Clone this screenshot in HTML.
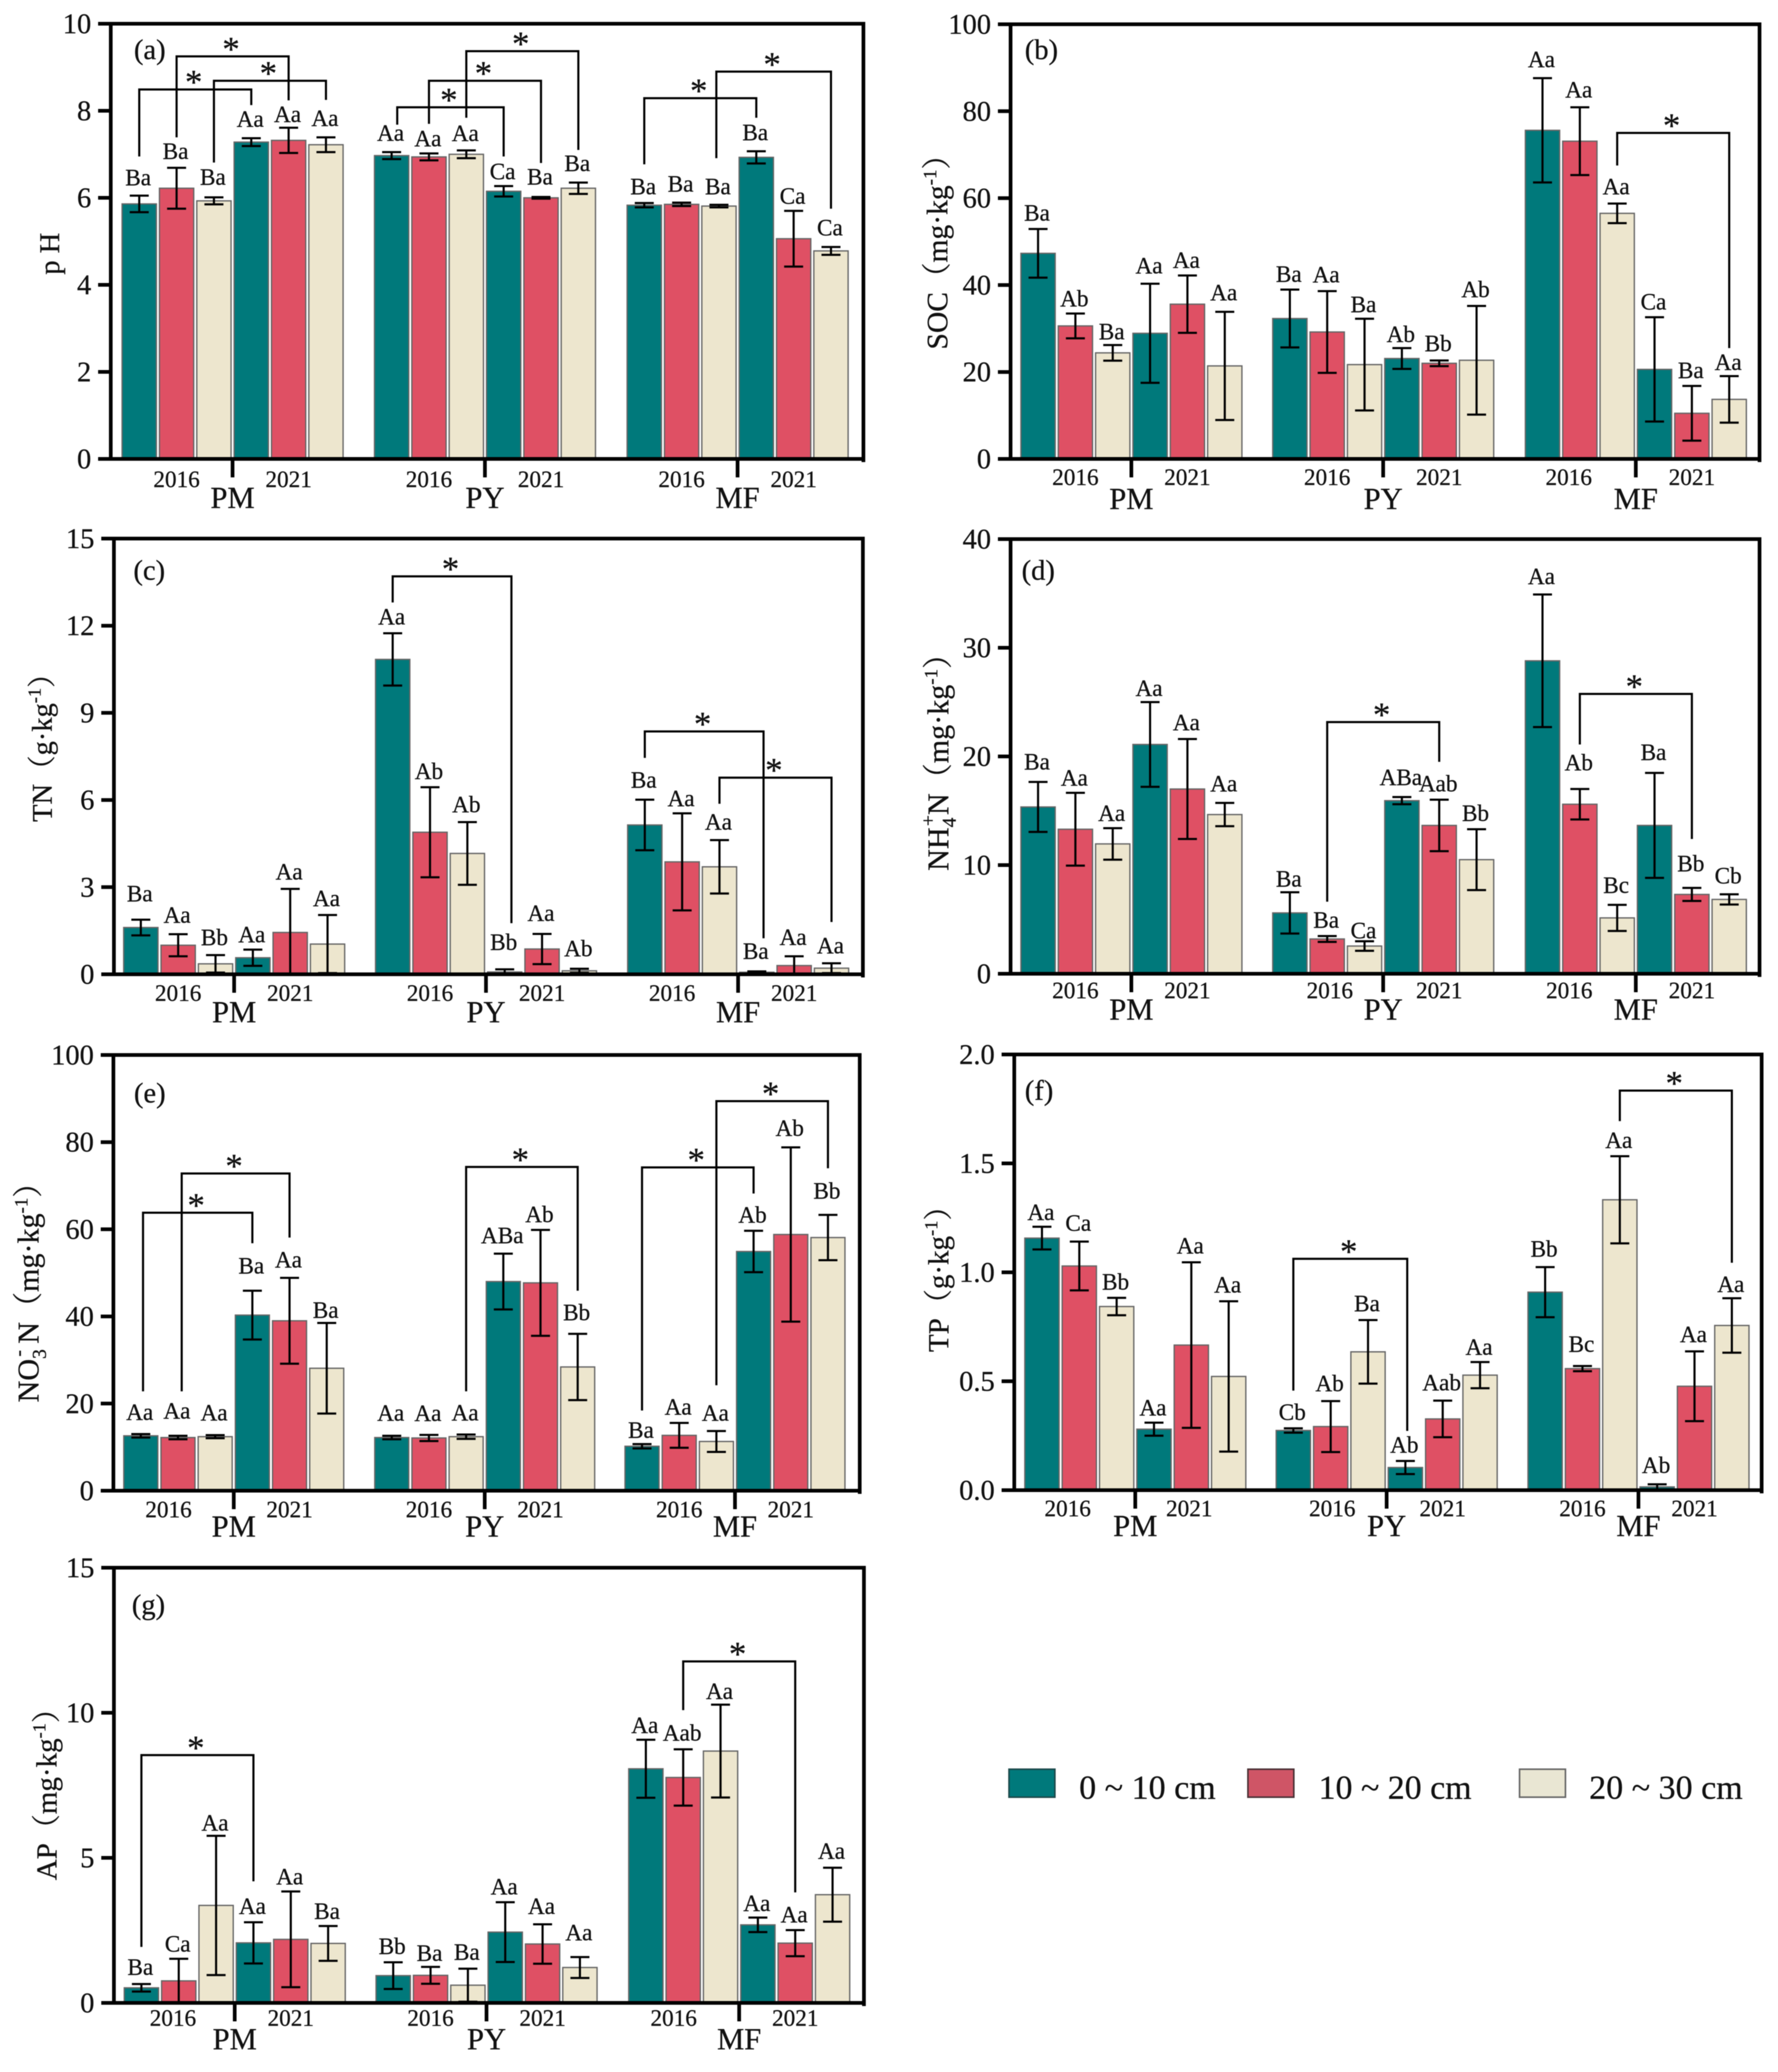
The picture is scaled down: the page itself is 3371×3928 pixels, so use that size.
<!DOCTYPE html>
<html lang="en">
<head>
<meta charset="utf-8">
<title>Soil properties by stand type, year and depth</title>
<style>
html,body{margin:0;padding:0;background:#fff;width:3371px;height:3928px;overflow:hidden}
svg{display:block;filter:blur(0.8px)}
text{font-family:"Liberation Serif","Noto Serif CJK SC",serif;fill:#111;stroke:#111;stroke-width:0.5px}
.let{font-size:54px}
.leg{font-size:64px}
</style>
</head>
<body>
<svg id="chart" xmlns="http://www.w3.org/2000/svg" width="3371" height="3928" viewBox="0 0 3371 3928">
  <rect x="0" y="0" width="3371" height="3928" fill="#fff"/>

  <text font-size="54" transform="translate(112,481) rotate(-90)" text-anchor="middle">p H</text>
  <text font-size="56" transform="translate(1796,464) rotate(-90)" text-anchor="middle">SOC（mg·kg<tspan dy="-21" font-size="36">-1</tspan><tspan dy="21">）</tspan></text>
  <text font-size="54" transform="translate(98,1404) rotate(-90)" text-anchor="middle">TN（g·kg<tspan dy="-21" font-size="35">-1</tspan><tspan dy="21">）</tspan></text>
  <text font-size="57" transform="translate(1798,1431) rotate(-90)" text-anchor="middle">NH<tspan dy="14" font-size="37">4</tspan><tspan dx="-16" dy="-40" font-size="37">+</tspan><tspan dy="26">N（mg·kg</tspan><tspan dy="-21" font-size="36">-1</tspan><tspan dy="21">）</tspan></text>
  <text font-size="57" transform="translate(73,2436) rotate(-90)" text-anchor="middle">NO<tspan dy="14" font-size="37">3</tspan><tspan dx="-14" dy="-40" font-size="37">-</tspan><tspan dy="26" dx="12">N（mg·kg</tspan><tspan dy="-21" font-size="36">-1</tspan><tspan dy="21">）</tspan></text>
  <text font-size="55" transform="translate(1798,2411) rotate(-90)" text-anchor="middle">TP（g·kg<tspan dy="-21" font-size="35">-1</tspan><tspan dy="21">）</tspan></text>
  <text font-size="55" transform="translate(107,3388) rotate(-90)" text-anchor="middle">AP（mg·kg<tspan dy="-21" font-size="35">-1</tspan><tspan dy="21">）</tspan></text>

  <text class="let" x="254" y="112">(a)</text>
  <text class="let" x="1943" y="112">(b)</text>
  <text class="let" x="253" y="1099">(c)</text>
  <text class="let" x="1937" y="1099">(d)</text>
  <text class="let" x="254" y="2090">(e)</text>
  <text class="let" x="1943" y="2085">(f)</text>
  <text class="let" x="250" y="3060">(g)</text>

  <g>
    <g>
      <rect x="1913" y="3354" width="87" height="53" fill="#00797b" stroke="#1d4a4b" stroke-width="3"/>
      <text class="leg" x="2046" y="3410" textLength="259" lengthAdjust="spacingAndGlyphs">0 ~ 10 cm</text>
    </g>
    <g>
      <rect x="2366" y="3354" width="87" height="53" fill="#cf5566" stroke="#4a3035" stroke-width="3"/>
      <text class="leg" x="2500" y="3410" textLength="290" lengthAdjust="spacingAndGlyphs">10 ~ 20 cm</text>
    </g>
    <g>
      <rect x="2881" y="3354" width="87" height="53" fill="#e9e6d3" stroke="#666" stroke-width="3"/>
      <text class="leg" x="3013" y="3410" textLength="291" lengthAdjust="spacingAndGlyphs">20 ~ 30 cm</text>
    </g>
  </g>
</svg>

<script>
const sites = ['PM', 'PY', 'MF'];
const years = ['2016', '2021'];

const phValues = [5.86,6.22,5.93,7.28,7.32,7.22, 6.97,6.94,7.0,6.15,6.0,6.22, 5.83,5.85,5.81,6.93,5.06,4.78];
const phErrors = [0.19,0.47,0.08,0.09,0.29,0.17, 0.08,0.08,0.09,0.12,0.02,0.13, 0.05,0.04,0.03,0.14,0.64,0.09];
const phLetters = ['Ba','Ba','Ba','Aa','Aa','Aa','Aa','Aa','Aa','Ca','Ba','Ba','Ba','Ba','Ba','Ba','Ca','Ca'];
const phTicks = ['0','2','4','6','8','10'];
const phBrackets = [[0,3,8.49,6.95,8.13],[1,4,9.25,7.39,8.24],[2,5,8.69,6.81,8.25],[6.15,9,8.08,7.68,6.95],[7,10,8.69,7.70,6.80],[8,11,9.37,7.84,7.10],[12,15,8.29,6.77,7.84],[13.93,17,8.9,6.91,5.75]];

const socValues = [47.3,30.6,24.4,28.9,35.6,21.4, 32.3,29.2,21.7,23.1,22.0,22.7, 75.6,73.1,56.5,20.6,10.5,13.7];
const socErrors = [5.6,2.85,1.8,11.4,6.6,12.45, 6.65,9.4,10.55,2.4,0.65,12.5, 12,7.8,2.25,12,6.3,5.35];
const socLetters = ['Ba','Ab','Ba','Aa','Aa','Aa','Ba','Aa','Ba','Ab','Bb','Ab','Aa','Aa','Aa','Ca','Ba','Aa'];
const socTicks = ['0','20','40','60','80','100'];
const socBrackets = [[14,17,75,67.5,25.5]];

const tnValues = [1.61,1.0,0.36,0.57,1.44,1.04, 10.84,4.89,4.16,0.08,0.87,0.12, 5.14,3.87,3.7,0.07,0.3,0.21];
const tnErrors = [0.27,0.38,0.3,0.28,1.5,1.0, 0.9,1.55,1.08,0.09,0.52,0.07, 0.87,1.67,0.92,0.03,0.32,0.17];
const tnLetters = ['Ba','Aa','Bb','Aa','Aa','Aa','Aa','Ab','Ab','Bb','Aa','Ab','Ba','Aa','Aa','Ba','Aa','Aa'];
const tnTicks = ['0','3','6','9','12','15'];
const tnBrackets = [[6,9.18,13.7,12.8,1.76],[12,15.18,8.36,7.45,1.24],[14,17,6.77,5.87,1.8]];

const nh4Values = [15.35,13.3,11.95,21.1,17,14.65, 5.6,3.2,2.55,15.93,13.65,10.5, 28.8,15.6,5.14,13.65,7.3,6.84];
const nh4Errors = [2.3,3.35,1.45,3.9,4.6,1.07, 1.9,0.27,0.44,0.33,2.37,2.8, 6.1,1.4,1.2,4.83,0.6,0.47];
const nh4Letters = ['Ba','Aa','Aa','Aa','Aa','Aa','Ba','Ba','Ca','ABa','Aab','Bb','Aa','Ab','Bc','Ba','Bb','Cb'];
const nh4Ticks = ['0','10','20','30','40'];
const nh4Brackets = [[7,10,23.16,6.63,19.5],[13,16,25.75,21.1,12.4]];

const no3Values = [12.6,12.2,12.4,40.3,39,28.1, 12.2,12.1,12.4,48,47.7,28.4, 10.2,12.7,11.3,54.9,58.8,58.1];
const no3Errors = [0.4,0.4,0.35,5.6,9.85,10.4, 0.4,0.7,0.5,6.4,12.15,7.6, 0.5,2.85,2.4,4.75,20,5.2];
const no3Letters = ['Aa','Aa','Aa','Ba','Aa','Ba','Aa','Aa','Aa','ABa','Ab','Bb','Ba','Aa','Aa','Ab','Ab','Bb'];
const no3Ticks = ['0','20','40','60','80','100'];
const no3Brackets = [[0.06,3,63.8,22.8,56.8],[1.1,4,72.8,22.8,58.1],[8,11,74.3,22.8,45.9],[12,15,74.2,18.4,68.2],[14,17,89.4,24.2,74]];

const tpValues = [1.157,1.029,0.843,0.28,0.666,0.522, 0.274,0.292,0.635,0.104,0.327,0.528, 0.909,0.558,1.333,0.015,0.477,0.756];
const tpErrors = [0.052,0.112,0.04,0.03,0.38,0.345, 0.01,0.117,0.146,0.03,0.084,0.06, 0.115,0.012,0.2,0.012,0.16,0.125];
const tpLetters = ['Aa','Ca','Bb','Aa','Aa','Aa','Cb','Ab','Ba','Ab','Aab','Aa','Bb','Bc','Aa','Ab','Aa','Aa'];
const tpTicks = ['0.0','0.5','1.0','1.5','2.0'];
const tpBrackets = [[6,9.05,1.062,0.457,0.272],[14,17,1.834,1.694,1.044]];

const apValues = [0.52,0.76,3.36,2.07,2.19,2.05, 0.94,0.95,0.61,2.44,2.03,1.22, 8.07,7.77,8.68,2.69,2.06,3.73];
const apErrors = [0.13,0.76,2.4,0.71,1.65,0.6, 0.46,0.29,0.57,1.03,0.68,0.36, 1.0,0.97,1.6,0.25,0.45,0.93];
const apLetters = ['Ba','Ca','Aa','Aa','Aa','Ba','Bb','Ba','Ba','Aa','Aa','Aa','Aa','Aab','Aa','Aa','Aa','Aa'];
const apTicks = ['0','5','10','15'];
const apBrackets = [[0,3,8.54,1.93,4.19],[13,16,11.77,10.09,3.81]];

const depthFills = ['#00797b', '#df5064', '#ede6ce'];

const panels = [
  {id:'ph',  values:phValues,  errors:phErrors,  letters:phLetters,  ticks:phTicks,  brackets:phBrackets,  ymax:10, left:210, right:1637, top:45,   bottom:870,  starts:[231.5,710,1189],  pitch:70.8, barW:65, yearDy:53, siteDy:93, dx16:[0,0,0],     dx21:[0,0,0],
   gaps:[20,17,24,22,11,22,22,14,18,13,24,22,17,21,20,21,14,22]},
  {id:'soc', values:socValues, errors:socErrors, letters:socLetters, ticks:socTicks, brackets:socBrackets, ymax:100,left:1916,right:3336,top:46,   bottom:870,  starts:[1935.6,2413,2892],pitch:70.8, barW:65, yearDy:49, siteDy:95, dx16:[0,0,-21],   dx21:[0,0,0],
   gaps:[16,14,11,20,15,22,15,17,13,12,18,17,21,19,18,15,15,12]},
  {id:'tn',  values:tnValues,  errors:tnErrors,  letters:tnLetters,  ticks:tnTicks,  brackets:tnBrackets,  ymax:15, left:216, right:1636, top:1021, bottom:1847, starts:[234.5,712,1190],  pitch:70.8, barW:65, yearDy:50, siteDy:91, dx16:[0,0,-19],   dx21:[0,0,0],
   gaps:[35,22,19,14,18,17,17,16,19,37,25,24,23,14,20,24,22,19]},
  {id:'nh4', values:nh4Values, errors:nh4Errors, letters:nh4Letters, ticks:nh4Ticks, brackets:nh4Brackets, ymax:40, left:1916,right:3336,top:1022, bottom:1846, starts:[1935.6,2413,2892],pitch:70.8, barW:65, yearDy:46, siteDy:87, dx16:[0,5,-20],   dx21:[0,0,0],
   gaps:[24,14,14,12,17,22,11,16,6,23,16,16,20,36,23,25,32,21]},
  {id:'no3', values:no3Values, errors:no3Errors, letters:no3Letters, ticks:no3Ticks, brackets:no3Brackets, ymax:100,left:215, right:1630, top:2000, bottom:2826, starts:[234.7,710.5,1185],pitch:70.5, barW:64.5, yearDy:50, siteDy:87, dx16:[-18,0,0],  dx21:[0,0,0],
   gaps:[27,33,28,33,20,10,29,27,27,20,15,26,12,16,20,16,22,31]},
  {id:'tp',  values:tpValues,  errors:tpErrors,  letters:tpLetters,  ticks:tpTicks,  brackets:tpBrackets,  ymax:2,  left:1923,right:3340,top:1999, bottom:2825, starts:[1943,2419.6,2897],pitch:70.8, barW:65, yearDy:49, siteDy:87, dx16:[-22,3,0],   dx21:[-4,0,0],
   gaps:[13,21,16,14,17,17,16,19,17,16,20,14,20,27,16,22,18,12]},
  {id:'ap',  values:apValues,  errors:apErrors,  letters:apLetters,  ticks:apTicks,  brackets:apBrackets,  ymax:15, left:216, right:1638, top:2972, bottom:3797, starts:[235.6,713,1192],  pitch:70.8, barW:65, yearDy:43, siteDy:88, dx16:[-11,0,-18], dx21:[0,0,0],
   gaps:[18,14,10,16,14,14,16,12,17,15,20,32,13,17,11,13,15,17]}
];

const SVGNS = 'http://www.w3.org/2000/svg';
const root = document.getElementById('chart');

function mk(tag, attrs, parent, text) {
  const el = document.createElementNS(SVGNS, tag);
  for (const k in attrs) el.setAttribute(k, attrs[k]);
  if (text !== undefined) el.textContent = text;
  parent.appendChild(el);
  return el;
}

function drawPanel(p) {
  const yOf = v => p.bottom - (v / p.ymax) * (p.bottom - p.top);
  const barLeft = i => p.starts[Math.floor(i / 6)] + (i % 6) * p.pitch;
  const barMid = pos => {
    const i = Math.floor(pos);
    return barLeft(i) + p.barW / 2 + (pos - i) * p.pitch;
  };

  const g = mk('g', {}, root);
  
  

  p.values.forEach((v, i) => {
    const bar = mk('rect', {x: barLeft(i), y: yOf(v), width: p.barW, height: p.bottom - yOf(v), fill: depthFills[i % 3], stroke: '#666', 'stroke-width': 2.5}, g);
    
    
  });

  p.values.forEach((v, i) => {
    const hi = yOf(v + p.errors[i]);
    const lo = yOf(Math.max(0, v - p.errors[i]));
    const cx = barMid(i);
    const eb = mk('path', {d: 'M' + (cx - 18) + ' ' + hi + 'H' + (cx + 18) + 'M' + cx + ' ' + hi + 'V' + lo + 'M' + (cx - 18) + ' ' + lo + 'H' + (cx + 18), fill: 'none', stroke: '#000', 'stroke-width': 4}, g);
    
    

    const lab = mk('text', {x: cx - 2, y: hi - p.gaps[i], 'text-anchor': 'middle', 'font-size': 44}, g, p.letters[i]);
    
    
  });

  p.brackets.forEach((b, k) => {
    const x1 = barMid(b[0]);
    const x2 = barMid(b[1]);
    const yt = yOf(b[2]);
    const br = mk('path', {d: 'M' + x1 + ' ' + yOf(b[3]) + 'V' + yt + 'H' + x2 + 'V' + yOf(b[4]), fill: 'none', stroke: '#000', 'stroke-width': 4}, g);
    
    
    const st = mk('text', {x: (x1 + x2) / 2 - 3, y: yt + 8, 'text-anchor': 'middle', 'font-size': 66}, g, '*');
    
    
  });

  const frame = mk('path', {d: 'M' + p.left + ' ' + p.bottom + 'V' + p.top + 'H' + p.right + 'V' + (p.bottom + 6) + 'M' + (p.left - 24) + ' ' + p.bottom + 'H' + p.right, fill: 'none', stroke: '#000', 'stroke-width': 7}, g);
  
  

  p.ticks.forEach((t, i) => {
    const val = i * p.ymax / (p.ticks.length - 1);
    const y = yOf(val);
    const tk = mk('line', {x1: p.left - 24, x2: p.left, y1: y, y2: y, stroke: '#000', 'stroke-width': 7}, g);
    
    
    const tl = mk('text', {x: p.left - 37, y: y + 18, 'text-anchor': 'end', 'font-size': 54}, g, t);
    
    
  });

  sites.forEach((s, k) => {
    const tx = p.starts[k] + 3 * p.pitch - 3;
    const tk = mk('line', {x1: tx, x2: tx, y1: p.bottom, y2: p.bottom + 35, stroke: '#000', 'stroke-width': 7}, g);
    
    
    const sl = mk('text', {x: tx, y: p.bottom + p.siteDy, 'text-anchor': 'middle', 'font-size': 58}, g, s);
    
    
    const y16 = mk('text', {x: barMid(k * 6 + 1) + p.dx16[k], y: p.bottom + p.yearDy, 'text-anchor': 'middle', 'font-size': 44}, g, years[0]);
    
    
    const y21 = mk('text', {x: barMid(k * 6 + 4) + p.dx21[k], y: p.bottom + p.yearDy, 'text-anchor': 'middle', 'font-size': 44}, g, years[1]);
    
    
  });
}

panels.forEach(drawPanel);
</script>
</body>
</html>
